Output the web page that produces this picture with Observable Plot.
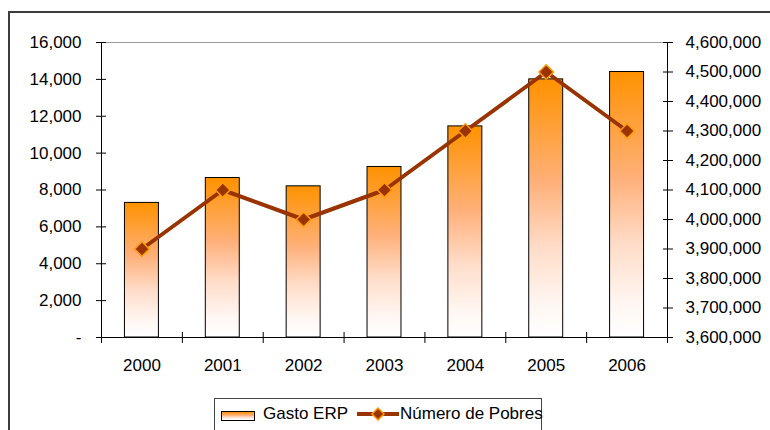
<!DOCTYPE html>
<html>
<head>
<meta charset="utf-8">
<script src="https://cdn.jsdelivr.net/npm/d3@7"></script>
<script src="https://cdn.jsdelivr.net/npm/@observablehq/plot@0.6"></script>
<style>
html, body { margin: 0; padding: 0; background: #fff; }
body { width: 770px; height: 430px; overflow: hidden; position: relative; font-family: "Liberation Sans", Arial, sans-serif; }
#border { position: absolute; left: 8px; top: 11px; width: 900px; height: 600px; border: 2px solid #3c3c3c; box-sizing: border-box; }
#chart { position: absolute; left: 0; top: 0; }
#chart svg { display: block; }
#legend { position: absolute; left: 214px; top: 398px; width: 328px; height: 60px; border: 1px solid #444; box-sizing: border-box; font-size: 17px; color: #000; }
#legend .sw { position: absolute; left: 6px; top: 12px; width: 34px; height: 10px; box-sizing: border-box; border: 1px solid #000;
  background: linear-gradient(to bottom, #FF9200 0%, #FFB079 40%, #FFDCC8 65%, #FFF7F3 88%, #FFFFFF 100%); }
#legend .t { position: absolute; top: 5px; line-height: 20px; white-space: nowrap; }
#legend svg { position: absolute; left: 142px; top: 8px; }
</style>
</head>
<body>
<svg width="0" height="0" style="position:absolute">
  <defs>
    <linearGradient id="barGrad" x1="0" y1="0" x2="0" y2="1">
      <stop offset="0" stop-color="#FF9200"/>
      <stop offset="0.4" stop-color="#FFB079"/>
      <stop offset="0.65" stop-color="#FFDCC8"/>
      <stop offset="0.88" stop-color="#FFF7F3"/>
      <stop offset="1" stop-color="#FFFFFF"/>
    </linearGradient>
  </defs>
</svg>
<div id="border"></div>
<div id="chart"></div>
<div id="legend">
  <span class="sw"></span>
  <span class="t" style="left:48px">Gasto ERP</span>
  <svg width="42" height="14">
    <line x1="0" y1="7" x2="42" y2="7" stroke="#993300" stroke-width="4"/>
    <path d="M21,1 L27,7 L21,13 L15,7 Z" fill="#993300" stroke="#FF9900" stroke-width="1.5"/>
  </svg>
  <span class="t" style="left:185px">Número de Pobres</span>
</div>
<script>
// Data
const years = [2000, 2001, 2002, 2003, 2004, 2005, 2006];
const gasto = [7300, 8650, 8200, 9250, 11450, 14000, 14400];           // Gasto ERP (left axis)
const pobres = [3900000, 4100000, 4000000, 4100000, 4300000, 4500000, 4300000]; // Número de Pobres (right axis)
const leftTicks = [0, 2000, 4000, 6000, 8000, 10000, 12000, 14000, 16000];
const rightTicks = [3600000, 3700000, 3800000, 3900000, 4000000, 4100000, 4200000, 4300000, 4400000, 4500000, 4600000];

const leftMax = 16000;
const rightMin = 3600000, rightMax = 4600000;
const toLeft = v => (v - rightMin) / (rightMax - rightMin) * leftMax;
const fromLeft = v => v / leftMax * (rightMax - rightMin) + rightMin;

const data = years.map((year, i) => ({year, gasto: gasto[i], pobres: pobres[i]}));
const bounds = [years[0] - 0.5, ...years.map(y => y + 0.5)];
const fmt = d3.format(",");

const diamond = {
  draw(ctx, size) {
    const r = Math.sqrt(size) * 0.62;
    ctx.moveTo(0, -r); ctx.lineTo(r, 0); ctx.lineTo(0, r); ctx.lineTo(-r, 0); ctx.closePath();
  }
};

const chart = Plot.plot({
  width: 770,
  height: 398,
  marginLeft: 101,
  marginRight: 103,
  marginTop: 42,
  marginBottom: 61,
  style: {fontFamily: "'Liberation Sans', Arial, sans-serif", fontSize: "17px", color: "#000", background: "transparent"},
  x: {type: "linear", domain: [bounds[0], bounds[bounds.length - 1]]},
  y: {domain: [0, leftMax]},
  marks: [
    Plot.rectY(data, {x1: d => d.year - 0.21, x2: d => d.year + 0.21, y: "gasto", fill: "url(#barGrad)", stroke: "#000", strokeWidth: 1}),
    Plot.ruleY([leftMax], {stroke: "#9a9a9a"}),
    Plot.ruleY([0], {stroke: "#000"}),
    Plot.ruleX([bounds[0], bounds[bounds.length - 1]], {stroke: "#000"}),
    Plot.axisY({ticks: leftTicks, tickSize: 10, dx: 5, tickPadding: 15, label: null,
      tickFormat: d => d === 0 ? "-" : fmt(d)}),
    Plot.axisY({anchor: "right", ticks: rightTicks.map(toLeft), tickSize: 10, dx: -5, tickPadding: 13, label: null,
      tickFormat: d => fmt(Math.round(fromLeft(d)))}),
    Plot.axisX({ticks: bounds, tickSize: 11, dy: -5, tickFormat: () => "", label: null}),
    Plot.axisX({ticks: years, tickSize: 0, tickPadding: 21, tickFormat: d => String(d), label: null}),
    Plot.line(data, {x: "year", y: d => toLeft(d.pobres), stroke: "#993300", strokeWidth: 4}),
    Plot.dot(data, {x: "year", y: d => toLeft(d.pobres), symbol: diamond, r: 6.6, fill: "#993300", stroke: "#FF9900", strokeWidth: 1.5})
  ]
});
document.getElementById("chart").appendChild(chart);
</script>
</body>
</html>
